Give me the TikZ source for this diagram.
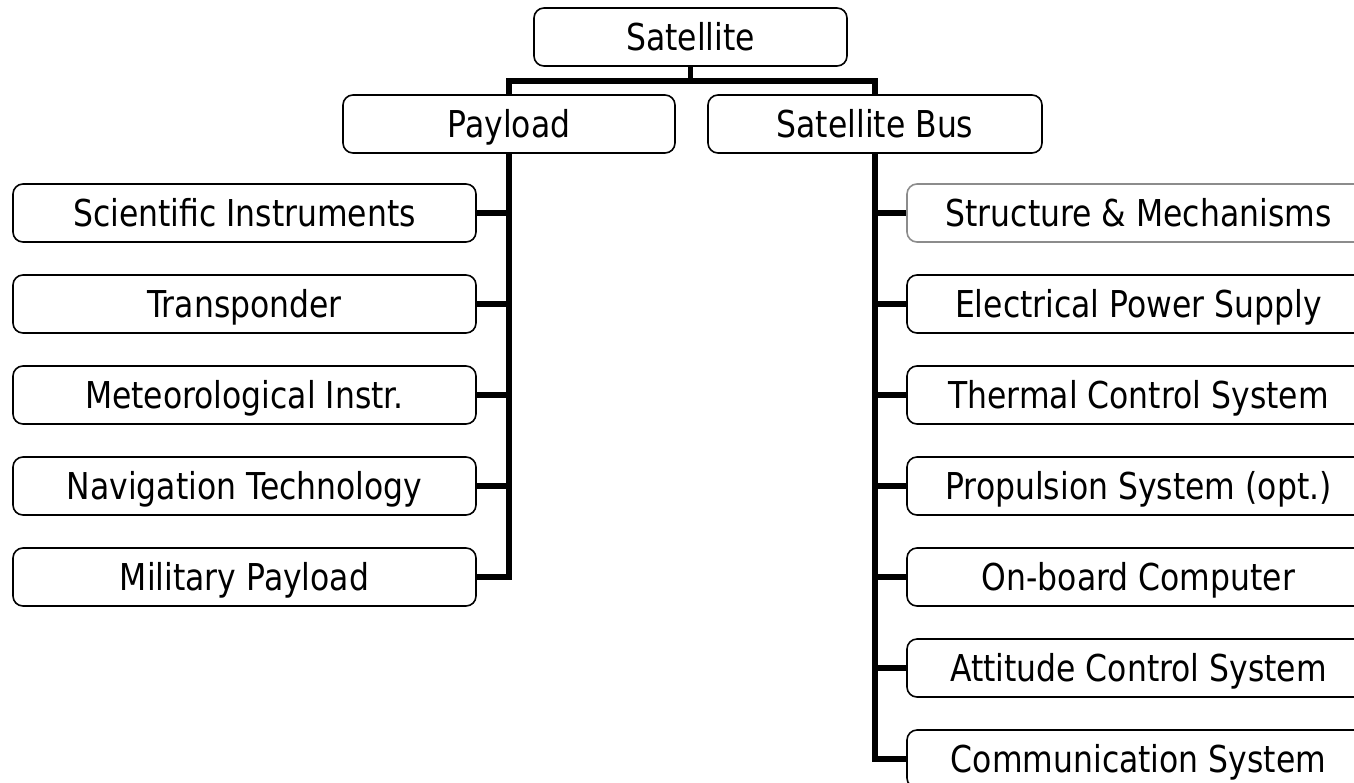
\documentclass[tikz,border=0pt]{standalone}
\usepackage{fontspec}
\setmainfont{DejaVu Sans}[FakeStretch=0.85]

\begin{document}
\begin{tikzpicture}
  [
    x=1pt, y=-1pt,
    box/.style  = {draw, rounded corners=10pt, line width=1.6pt, inner sep=0pt,
                   minimum height=58pt, text height=27pt, text depth=0pt,
                   font=\fontsize{37}{44}\selectfont},
    part/.style = {box, minimum width=463pt},
    link/.style = {line width=5.5pt},
  ]

%Frame of the picture (the right column runs past it)
\useasboundingbox (0,0) rectangle (1354,782);
\clip (0,0) rectangle (1354,782);

%Column centres and row spacing
\def \xleft{244.5}
\def \xright{1138.5}
\def \ytop{213}
\def \dy{91}

%Top of the tree
\node[box, minimum width=313pt] (sat) at (690.5,37) {Satellite};
\node[box, minimum width=332pt] (pay) at (509,124) {Payload};
\node[box, minimum width=334pt] (bus) at (875,124) {Satellite Bus};

\coordinate (fork) at (690.5,81);
\draw[link] (sat.south) -- (fork);
\draw[link] (pay.north) |- (fork) -| (bus.north);

%Payload items
\foreach [count=\i] \j in {Scientific Instruments,Transponder,Meteorological Instr.,Navigation Technology,Military Payload}
{
\node[part] (pl\i) at (\xleft,{\ytop+(\i-1)*\dy}) {\j};
\draw[link] (pl\i.east) -- (pay.south |- pl\i.east);
}
\draw[link] (pay.south) |- (pl5.east);

%Bus items
\foreach [count=\i] \j/\c in {Structure \& Mechanisms/black!45,Electrical Power Supply/black,Thermal Control System/black,Propulsion System (opt.)/black,On-board Computer/black,Attitude Control System/black,Communication System/black}
{
\node[part, draw=\c] (sb\i) at (\xright,{\ytop+(\i-1)*\dy}) {\j};
\draw[link] (sb\i.west) -- (bus.south |- sb\i.west);
}
\draw[link] (bus.south) |- (sb7.west);
\end{tikzpicture}
\end{document}
